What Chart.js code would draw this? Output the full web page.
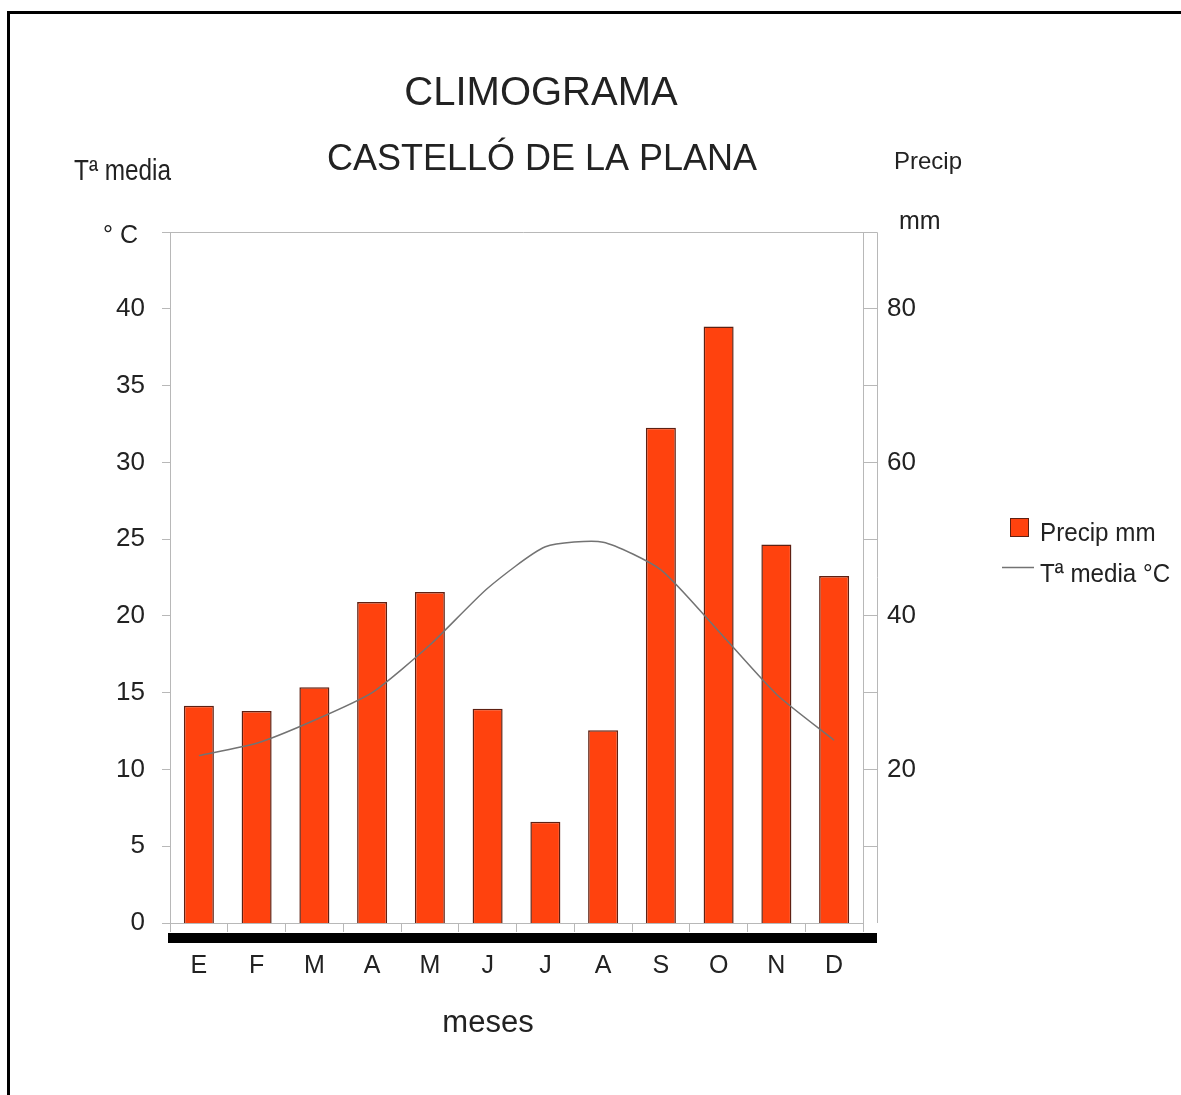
<!DOCTYPE html>
<html>
<head>
<meta charset="utf-8">
<script src="https://cdn.jsdelivr.net/npm/chart.js@4.4.1/dist/chart.umd.min.js"></script>
<style>
  html, body { margin: 0; padding: 0; background: #fff; }
  .frame { position: absolute; left: 7px; top: 11px; width: 1174px; height: 1084px;
           border-top: 3px solid #000; border-left: 3px solid #000; pointer-events: none; }
  canvas { position: absolute; left: 0; top: 0; }
</style>
</head>
<body>
<canvas id="climo" width="1181" height="1095"></canvas>
<div class="frame"></div>
<script>
  const months = ['E', 'F', 'M', 'A', 'M', 'J', 'J', 'A', 'S', 'O', 'N', 'D'];
  const precip = [28.3, 27.6, 30.7, 41.8, 43.1, 27.9, 13.2, 25.1, 64.5, 77.7, 49.3, 45.2];
  const temp = [10.9, 11.7, 13.2, 15.0, 18.1, 21.8, 24.5, 24.8, 23.0, 19.0, 14.9, 11.9];
  const tempTicks = [0, 5, 10, 15, 20, 25, 30, 35, 40];
  const precipTicks = [20, 40, 60, 80];

  Chart.defaults.font.family = '"Liberation Sans", Arial, sans-serif';
  Chart.defaults.color = '#222';

  const axisGray = '#b8b8b8';
  const sans = '"Liberation Sans", Arial, sans-serif';

  // squeezed text, for the condensed-looking labels
  function narrowText(c, txt, x, y, size, sx) {
    c.save();
    c.translate(x, y);
    c.scale(sx, 1);
    c.font = size + 'px ' + sans;
    c.fillText(txt, 0, 0);
    c.restore();
  }

  // extra labels, frame lines and legend
  const decor = {
    id: 'decor',
    afterDraw(chart) {
      const c = chart.ctx;
      const a = chart.chartArea;
      c.save();
      c.strokeStyle = axisGray;
      c.lineWidth = 1;
      c.beginPath();
      c.moveTo(a.left, a.top + 0.5);
      c.lineTo(a.right + 14.5, a.top + 0.5);
      c.lineTo(a.right + 14.5, a.bottom);
      c.stroke();

      c.fillStyle = '#000';
      c.fillRect(a.left - 2, a.bottom + 10, a.right - a.left + 16, 10);

      c.fillStyle = '#222';
      c.textAlign = 'center';
      c.textBaseline = 'alphabetic';
      c.font = '40px ' + sans;
      c.fillText('CLIMOGRAMA', 541, 105);
      c.font = '36px ' + sans;
      c.fillText('CASTELLÓ DE LA PLANA', 542, 170);
      c.font = '31px ' + sans;
      c.fillText('meses', 488, 1032);

      c.textAlign = 'left';
      narrowText(c, 'Tª media', 74, 180, 29, 0.84);
      c.font = '25px ' + sans;
      c.fillText('° C', 103, 243);
      c.font = '24px ' + sans;
      c.fillText('Precip', 894, 169);
      c.font = '25px ' + sans;
      c.fillText('mm', 899, 229);

      // legend
      const ds = chart.data.datasets;
      const bar = ds.find(d => d.type === 'bar');
      const line = ds.find(d => d.type === 'line');
      c.fillStyle = bar.backgroundColor;
      c.strokeStyle = bar.borderColor;
      c.lineWidth = 1;
      c.fillRect(1010, 518, 19, 19);
      c.strokeRect(1010.5, 518.5, 18, 18);
      c.strokeStyle = line.borderColor;
      c.lineWidth = 1.5;
      c.beginPath();
      c.moveTo(1002, 567.5);
      c.lineTo(1034, 567.5);
      c.stroke();
      c.fillStyle = '#222';
      narrowText(c, bar.label, 1040, 541, 26, 0.93);
      narrowText(c, line.label, 1040, 582, 26, 0.93);
      c.restore();
    }
  };

  new Chart(document.getElementById('climo'), {
    data: {
      labels: months,
      datasets: [
        {
          type: 'line',
          label: 'Tª media °C',
          data: temp,
          yAxisID: 'y',
          borderColor: '#737373',
          borderWidth: 1.5,
          pointRadius: 0,
          tension: 0.2,
          order: 0
        },
        {
          type: 'bar',
          label: 'Precip mm',
          data: precip,
          yAxisID: 'yR',
          backgroundColor: '#ff420e',
          borderColor: '#5e2012',
          borderWidth: 1.5,
          categoryPercentage: 1,
          barPercentage: 0.52,
          order: 1
        }
      ]
    },
    plugins: [decor],
    options: {
      responsive: false,
      animation: false,
      layout: { padding: { top: 232, left: 0, right: 0, bottom: 0 } },
      plugins: {
        legend: { display: false },
        title: { display: false },
        tooltip: { enabled: false }
      },
      scales: {
        x: {
          offset: true,
          grid: { drawOnChartArea: false, offset: true, tickLength: 9, color: axisGray },
          border: { color: axisGray },
          ticks: { font: { size: 25 }, color: '#222', padding: 19 },
          afterFit(s) { s.height = 172; }
        },
        y: {
          position: 'left',
          min: 0,
          max: 45,
          afterBuildTicks(s) { s.ticks = tempTicks.concat([45]).map(v => ({ value: v })); },
          grid: { drawOnChartArea: false, tickLength: 8, color: axisGray },
          border: { color: axisGray },
          ticks: {
            font: { size: 26 },
            color: '#222',
            padding: 17,
            callback: v => (tempTicks.includes(v) ? v : '')
          },
          afterFit(s) { s.width = 170; }
        },
        yR: {
          position: 'right',
          min: 0,
          max: 90,
          afterBuildTicks(s) {
            const t = [];
            for (let v = 10; v <= 80; v += 10) t.push({ value: v });
            s.ticks = t;
          },
          grid: { drawOnChartArea: false, tickLength: 14, color: axisGray },
          border: { color: axisGray },
          ticks: {
            font: { size: 26 },
            color: '#222',
            padding: 10,
            callback: v => (precipTicks.includes(v) ? v : '')
          },
          afterFit(s) { s.width = 318; }
        }
      }
    }
  });
</script>
</body>
</html>
